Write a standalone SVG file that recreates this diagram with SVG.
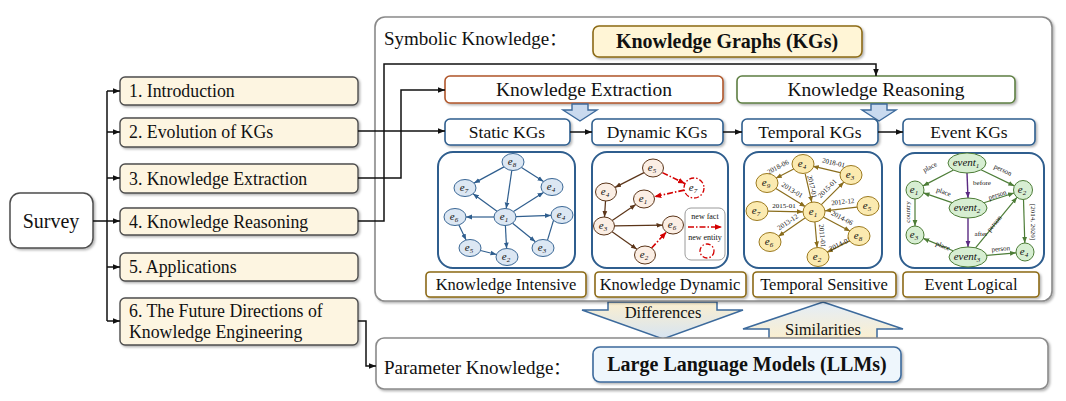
<svg xmlns="http://www.w3.org/2000/svg" width="1066" height="401" viewBox="0 0 1066 401">
<defs>
<style>
text{font-family:"Liberation Serif","Times New Roman",serif;fill:#111}
.sec rect{fill:#fdf5e1;stroke:#4e4e4e;stroke-width:1.4}
.sec text{font-size:17.8px}
.conn{fill:none;stroke:#111;stroke-width:1.5}
.big{fill:#fff;stroke:#8a8a8a;stroke-width:1.6}
.kg rect{fill:#fff;stroke:#2f5e8e;stroke-width:1.6}
.kg text{font-size:17.5px;text-anchor:middle}
.panel{fill:#fff;stroke:#2f5e8e;stroke-width:2}
.prop rect{fill:#fff;stroke:#8c6a16;stroke-width:1.6}
.prop text{font-size:16.5px;text-anchor:middle}
.nl{font-style:italic;font-size:11px;text-anchor:middle}
.el{font-size:7px;text-anchor:middle}
.fat{fill:#c9daef;stroke:#3c6a9c;stroke-width:1.4}
.s-e{stroke:#2f5e8e;stroke-width:1.2;fill:none}
.s-n{fill:#dce7f3;stroke:#3a6795;stroke-width:1}
.d-e{stroke:#5b3519;stroke-width:1.2;fill:none}
.d-r{stroke:#d40000;stroke-width:1.6;fill:none;stroke-dasharray:6 2 1.5 2}
.d-n{fill:#fbeee4;stroke:#5b3519;stroke-width:1}
.t-e{stroke:#8a6d1c;stroke-width:1.2;fill:none}
.t-n{fill:#fbeab0;stroke:#9c7a20;stroke-width:1}
.v-e{stroke:#4d7d37;stroke-width:1.2;fill:none}
.v-p{stroke:#5a2a82;stroke-width:1.4;fill:none}
.v-n{fill:#d7eed2;stroke:#4d7d37;stroke-width:1}
</style>
<filter id="sh" x="-10%" y="-10%" width="125%" height="140%">
<feDropShadow dx="1.5" dy="1.5" stdDeviation="1" flood-color="#000" flood-opacity="0.3"/>
</filter>
<marker id="ak" viewBox="0 0 10 10" refX="10" refY="5" markerWidth="7" markerHeight="7" markerUnits="userSpaceOnUse" orient="auto"><path d="M0,1 L10,5 L0,9 z" fill="#111"/></marker>
<marker id="ab" viewBox="0 0 10 10" refX="10" refY="5" markerWidth="6" markerHeight="6" markerUnits="userSpaceOnUse" orient="auto"><path d="M0,1 L10,5 L0,9 z" fill="#2f5e8e"/></marker>
<marker id="ad" viewBox="0 0 10 10" refX="10" refY="5" markerWidth="6" markerHeight="6" markerUnits="userSpaceOnUse" orient="auto"><path d="M0,1 L10,5 L0,9 z" fill="#5b3519"/></marker>
<marker id="ar" viewBox="0 0 10 10" refX="10" refY="5" markerWidth="7" markerHeight="7" markerUnits="userSpaceOnUse" orient="auto"><path d="M0,1 L10,5 L0,9 z" fill="#d40000"/></marker>
<marker id="at" viewBox="0 0 10 10" refX="10" refY="5" markerWidth="6" markerHeight="6" markerUnits="userSpaceOnUse" orient="auto"><path d="M0,1 L10,5 L0,9 z" fill="#8a6d1c"/></marker>
<marker id="ag" viewBox="0 0 10 10" refX="10" refY="5" markerWidth="6" markerHeight="6" markerUnits="userSpaceOnUse" orient="auto"><path d="M0,1 L10,5 L0,9 z" fill="#4d7d37"/></marker>
<marker id="ap" viewBox="0 0 10 10" refX="10" refY="5" markerWidth="6" markerHeight="6" markerUnits="userSpaceOnUse" orient="auto"><path d="M0,1 L10,5 L0,9 z" fill="#5a2a82"/></marker>
<linearGradient id="gDown" x1="0" y1="0" x2="0" y2="1"><stop offset="0" stop-color="#fbefcf"/><stop offset="1" stop-color="#d6e4f3"/></linearGradient>
<linearGradient id="gUp" x1="0" y1="0" x2="0" y2="1"><stop offset="0" stop-color="#e3edf8"/><stop offset="1" stop-color="#fbefcf"/></linearGradient>
</defs>
<rect width="1066" height="401" fill="#fff"/>

<!-- comparison arrows between the two knowledge panels -->
<g id="cmp-differences">
<polygon points="608,302 717,302 717,310 743,310 663,339 582,310 608,310" fill="url(#gDown)" stroke="#3c6a9c" stroke-width="1.5"/>
<text x="663" y="318" font-size="16.5" text-anchor="middle">Differences</text>
</g>
<g id="cmp-similarities">
<polygon points="823,302 903,329 877,329 877,339 769,339 769,329 743,329" fill="url(#gUp)" stroke="#3c6a9c" stroke-width="1.5"/>
<text x="823" y="335" font-size="16.5" text-anchor="middle">Similarities</text>
</g>

<!-- symbolic knowledge panel -->
<g id="symbolic-panel">
<rect class="big" x="375" y="17" width="677" height="284" rx="10" filter="url(#sh)"/>
<text x="384" y="45" font-size="19">Symbolic Knowledge<tspan font-family="'Noto Sans CJK SC',sans-serif" font-size="17">：</tspan></text>
</g>
<g id="kgs-title">
<rect x="593" y="26" width="269" height="31" rx="6" fill="#fff5d6" stroke="#8c6a16" stroke-width="1.6" filter="url(#sh)"/>
<text x="727" y="48" font-size="20" font-weight="bold" text-anchor="middle">Knowledge Graphs (KGs)</text>
</g>

<!-- parameter knowledge panel -->
<g id="parameter-panel">
<rect class="big" x="376" y="338" width="672" height="51" rx="8" filter="url(#sh)"/>
<text x="384" y="374" font-size="19">Parameter Knowledge<tspan font-family="'Noto Sans CJK SC',sans-serif" font-size="17">：</tspan></text>
</g>
<g id="llms">
<rect x="593" y="347" width="308" height="35" rx="7" fill="#eef6fc" stroke="#3c6a9c" stroke-width="1.6" filter="url(#sh)"/>
<text x="747" y="371" font-size="20" font-weight="bold" text-anchor="middle">Large Language Models (LLMs)</text>
</g>

<!-- survey outline -->
<g id="survey">
<rect x="10" y="193" width="83" height="55" rx="10" fill="#fff" stroke="#4e4e4e" stroke-width="1.5" filter="url(#sh)"/>
<text x="51" y="228" font-size="20" text-anchor="middle">Survey</text>
</g>
<g id="sec1" class="sec"><rect x="120" y="77" width="238" height="28" rx="5" filter="url(#sh)"/><text x="129" y="97">1. Introduction</text></g>
<g id="sec2" class="sec"><rect x="120" y="118" width="238" height="29" rx="5" filter="url(#sh)"/><text x="129" y="138">2. Evolution of KGs</text></g>
<g id="sec3" class="sec"><rect x="120" y="164" width="238" height="29" rx="5" filter="url(#sh)"/><text x="129" y="185">3. Knowledge Extraction</text></g>
<g id="sec4" class="sec"><rect x="120" y="208" width="238" height="27" rx="5" filter="url(#sh)"/><text x="129" y="228">4. Knowledge Reasoning</text></g>
<g id="sec5" class="sec"><rect x="120" y="253" width="238" height="28" rx="5" filter="url(#sh)"/><text x="129" y="273">5. Applications</text></g>
<g id="sec6" class="sec"><rect x="120" y="298" width="238" height="47" rx="5" filter="url(#sh)"/><text x="129" y="317">6. The Future Directions of</text><text x="129" y="338">Knowledge Engineering</text></g>

<!-- task boxes -->
<g id="extraction"><rect x="445" y="76" width="278" height="27" rx="5" fill="#fff" stroke="#b0562a" stroke-width="1.6" filter="url(#sh)"/><text x="584" y="96" font-size="19.5" text-anchor="middle">Knowledge Extraction</text></g>
<g id="reasoning"><rect x="737" y="76" width="278" height="27" rx="5" fill="#fff" stroke="#5e7f43" stroke-width="1.6" filter="url(#sh)"/><text x="876" y="96" font-size="19.5" text-anchor="middle">Knowledge Reasoning</text></g>
<polygon class="fat" points="572,104 588,104 588,110 597,110 580,121 563,110 572,110"/>
<polygon class="fat" points="871,104 887,104 887,110 896,110 879,121 862,110 871,110"/>

<!-- KG types -->
<g id="static-kgs" class="kg"><rect x="445" y="119" width="125" height="26" rx="5" filter="url(#sh)"/><text x="507" y="138">Static KGs</text></g>
<g id="dynamic-kgs" class="kg"><rect x="592" y="119" width="131" height="26" rx="5" filter="url(#sh)"/><text x="657" y="138">Dynamic KGs</text></g>
<g id="temporal-kgs" class="kg"><rect x="742" y="119" width="136" height="26" rx="5" filter="url(#sh)"/><text x="810" y="138">Temporal KGs</text></g>
<g id="event-kgs" class="kg"><rect x="903" y="119" width="132" height="26" rx="5" filter="url(#sh)"/><text x="969" y="138">Event KGs</text></g>

<!-- properties -->
<g id="p-intensive" class="prop"><rect x="426" y="272" width="160" height="25" rx="4" filter="url(#sh)"/><text x="506" y="290">Knowledge Intensive</text></g>
<g id="p-dynamic" class="prop"><rect x="595" y="272" width="151" height="25" rx="4" filter="url(#sh)"/><text x="670" y="290">Knowledge Dynamic</text></g>
<g id="p-temporal" class="prop"><rect x="753" y="272" width="143" height="25" rx="4" filter="url(#sh)"/><text x="824" y="290">Temporal Sensitive</text></g>
<g id="p-event" class="prop"><rect x="903" y="272" width="136" height="25" rx="4" filter="url(#sh)"/><text x="971" y="290">Event Logical</text></g>

<!-- outline connectors -->
<g id="connectors" class="conn">
<path d="M93,221 H107 M107,91 V321"/>
<path d="M107,91 H120" marker-end="url(#ak)"/>
<path d="M107,132 H120" marker-end="url(#ak)"/>
<path d="M107,178 H120" marker-end="url(#ak)"/>
<path d="M107,221 H120" marker-end="url(#ak)"/>
<path d="M107,267 H120" marker-end="url(#ak)"/>
<path d="M107,321 H120" marker-end="url(#ak)"/>
<path d="M358,131 H445" marker-end="url(#ak)"/>
<path d="M358,178 H401 V90 H445" marker-end="url(#ak)"/>
<path d="M358,221 H384 V64 H876 V76" marker-end="url(#ak)"/>
<path d="M358,321 H366 V366 H376" marker-end="url(#ak)"/>
<path d="M570,132 H592" marker-end="url(#ak)"/>
<path d="M723,132 H742" marker-end="url(#ak)"/>
<path d="M878,132 H903" marker-end="url(#ak)"/>
</g>

<!-- static KG sketch -->
<g id="static-graph">
<rect class="panel" x="438" y="152" width="137" height="116" rx="15"/>
<g class="s-e">
<path d="M504,166.9 L474,183.1" marker-end="url(#ab)"/>
<path d="M521.5,167.4 L543.5,181.6" marker-end="url(#ab)"/>
<path d="M511.8,170.4 L506.2,208.6" marker-end="url(#ab)"/>
<path d="M497,211.2 L473,193.8" marker-end="url(#ab)"/>
<path d="M513.5,211.6 L543.5,192.4" marker-end="url(#ab)"/>
<path d="M494,217 L466,217" marker-end="url(#ab)"/>
<path d="M516,216.6 L551,215.4" marker-end="url(#ab)"/>
<path d="M505.4,225.5 L506.6,248.5" marker-end="url(#ab)"/>
<path d="M512.6,223.2 L535.4,241.8" marker-end="url(#ab)"/>
<path d="M458.9,225 L466.1,240" marker-end="url(#ab)"/>
<path d="M480.5,250.5 L496.5,254.5" marker-end="url(#ab)"/>
<path d="M547.5,240.2 L557.5,207.2" marker-end="url(#ab)"/>
</g>
<g class="s-n">
<ellipse cx="513" cy="162" rx="11" ry="8.5"/><ellipse cx="465" cy="188" rx="11" ry="8.5"/>
<ellipse cx="552" cy="187" rx="11" ry="8.5"/><ellipse cx="505" cy="217" rx="11" ry="8.5"/>
<ellipse cx="455" cy="217" rx="11" ry="8.5"/><ellipse cx="562" cy="215" rx="11" ry="8.5"/>
<ellipse cx="470" cy="248" rx="11" ry="8.5"/><ellipse cx="507" cy="257" rx="11" ry="8.5"/>
<ellipse cx="543" cy="248" rx="11" ry="8.5"/>
</g>
<text class="nl" x="512" y="165">e<tspan dy="2" font-size="7">8</tspan></text>
<text class="nl" x="464" y="191">e<tspan dy="2" font-size="7">7</tspan></text>
<text class="nl" x="551" y="190">e<tspan dy="2" font-size="7">4</tspan></text>
<text class="nl" x="504" y="220">e<tspan dy="2" font-size="7">1</tspan></text>
<text class="nl" x="454" y="220">e<tspan dy="2" font-size="7">6</tspan></text>
<text class="nl" x="561" y="218">e<tspan dy="2" font-size="7">4</tspan></text>
<text class="nl" x="469" y="251">e<tspan dy="2" font-size="7">5</tspan></text>
<text class="nl" x="506" y="260">e<tspan dy="2" font-size="7">2</tspan></text>
<text class="nl" x="542" y="251">e<tspan dy="2" font-size="7">3</tspan></text>
</g>

<!-- dynamic KG sketch -->
<g id="dynamic-graph">
<rect class="panel" x="592" y="152" width="136" height="116" rx="15"/>
<g class="d-e">
<path d="M644,172.6 L615,187.4" marker-end="url(#ad)"/>
<path d="M605.5,201 L604.5,217" marker-end="url(#ad)"/>
<path d="M612.2,220.4 L635.8,204.6" marker-end="url(#ad)"/>
<path d="M614.5,225.8 L662.5,225.2" marker-end="url(#ad)"/>
<path d="M612.1,231.8 L636.9,249.2" marker-end="url(#ad)"/>
</g>
<g class="d-r">
<path d="M662.4,172.6 L685,183.6" marker-end="url(#ar)"/>
<path d="M684.2,190.1 L654.3,196.7" marker-end="url(#ar)"/>
<path d="M651.6,248 L666.4,232" marker-end="url(#ar)"/>
</g>
<g class="d-n">
<ellipse cx="653" cy="168" rx="10.5" ry="9"/><ellipse cx="606" cy="192" rx="10.5" ry="9"/>
<ellipse cx="644" cy="199" rx="10.5" ry="9"/><ellipse cx="604" cy="226" rx="10.5" ry="9"/>
<ellipse cx="673" cy="225" rx="10.5" ry="9"/><ellipse cx="645" cy="255" rx="10.5" ry="9"/>
</g>
<circle cx="694" cy="188" r="10" fill="#fff" stroke="#d40000" stroke-width="1.3" stroke-dasharray="5 2 1.5 2"/>
<text class="nl" x="652" y="171">e<tspan dy="2" font-size="7">5</tspan></text>
<text class="nl" x="605" y="195">e<tspan dy="2" font-size="7">4</tspan></text>
<text class="nl" x="643" y="202">e<tspan dy="2" font-size="7">1</tspan></text>
<text class="nl" x="603" y="229">e<tspan dy="2" font-size="7">3</tspan></text>
<text class="nl" x="672" y="228">e<tspan dy="2" font-size="7">6</tspan></text>
<text class="nl" x="644" y="258">e<tspan dy="2" font-size="7">2</tspan></text>
<text class="nl" x="693" y="191">e<tspan dy="2" font-size="7">7</tspan></text>
<g id="dynamic-legend">
<rect x="685" y="208" width="40" height="52" rx="6" fill="#fff" stroke="#9a9a9a" stroke-width="1"/>
<text x="705" y="219" font-size="8" text-anchor="middle">new fact</text>
<path class="d-r" d="M688,227 L722,227" marker-end="url(#ar)"/>
<text x="705" y="240" font-size="8" text-anchor="middle">new entity</text>
<circle cx="707" cy="251" r="7" fill="#fff" stroke="#d40000" stroke-width="1.3" stroke-dasharray="5 2 1.5 2"/>
</g>
</g>

<!-- temporal KG sketch -->
<g id="temporal-graph">
<rect class="panel" x="744" y="152" width="138" height="116" rx="15"/>
<g class="t-e">
<path d="M794.2,168.7 L775.8,178.3" marker-end="url(#at)"/>
<path d="M841.2,172.8 L812.8,166.2" marker-end="url(#at)"/>
<path d="M805.2,173.8 L811.8,202.3" marker-end="url(#at)"/>
<path d="M775.5,188.3 L805.5,206.8" marker-end="url(#at)"/>
<path d="M821.1,204.9 L843.9,182.1" marker-end="url(#at)"/>
<path d="M767.5,211.2 L803,211.8" marker-end="url(#at)"/>
<path d="M857,207.2 L825,210.8" marker-end="url(#at)"/>
<path d="M805.7,217.6 L778.3,236.4" marker-end="url(#at)"/>
<path d="M822.8,216.7 L850.2,231.3" marker-end="url(#at)"/>
<path d="M814.9,222 L817.1,247.5" marker-end="url(#at)"/>
<path d="M850.1,240.6 L826.9,252.4" marker-end="url(#at)"/>
</g>
<g class="el">
<text transform="translate(779,169) rotate(-28)">2018-06</text>
<text transform="translate(833,165) rotate(13)">2018-01</text>
<text transform="translate(810,187) rotate(77)">2017-01</text>
<text transform="translate(791,192) rotate(32)">2013-01</text>
<text transform="translate(829,190) rotate(-45)">2015-01</text>
<text x="784" y="208">2015-01</text>
<text transform="translate(843,204) rotate(-6)">2012-12</text>
<text transform="translate(789,224) rotate(-34)">2013-12</text>
<text transform="translate(841,220) rotate(28)">2014-06</text>
<text transform="translate(820,236) rotate(85)">2011-01</text>
<text transform="translate(841,246) rotate(-27)">2014-01</text>
</g>
<g class="t-n">
<ellipse cx="803" cy="164" rx="11" ry="9.5"/><ellipse cx="851" cy="175" rx="11" ry="9.5"/>
<ellipse cx="767" cy="183" rx="11" ry="9.5"/><ellipse cx="757" cy="211" rx="11" ry="9.5"/>
<ellipse cx="814" cy="212" rx="11" ry="10"/><ellipse cx="868" cy="206" rx="11" ry="9.5"/>
<ellipse cx="859" cy="236" rx="11" ry="9.5"/><ellipse cx="770" cy="242" rx="11" ry="9.5"/>
<ellipse cx="818" cy="257" rx="11" ry="9.5"/>
</g>
<text class="nl" x="802" y="167">e<tspan dy="2" font-size="7">4</tspan></text>
<text class="nl" x="850" y="178">e<tspan dy="2" font-size="7">3</tspan></text>
<text class="nl" x="766" y="186">e<tspan dy="2" font-size="7">9</tspan></text>
<text class="nl" x="756" y="214">e<tspan dy="2" font-size="7">7</tspan></text>
<text class="nl" x="813" y="215">e<tspan dy="2" font-size="7">1</tspan></text>
<text class="nl" x="867" y="209">e<tspan dy="2" font-size="7">5</tspan></text>
<text class="nl" x="858" y="239">e<tspan dy="2" font-size="7">8</tspan></text>
<text class="nl" x="769" y="245">e<tspan dy="2" font-size="7">6</tspan></text>
<text class="nl" x="817" y="260">e<tspan dy="2" font-size="7">2</tspan></text>
</g>

<!-- event KG sketch -->
<g id="event-graph">
<rect class="panel" x="900" y="153" width="144" height="115" rx="15"/>
<g class="v-e">
<path d="M953.5,170 L923,185.9" marker-end="url(#ag)"/>
<path d="M981,169.8 L1014.4,185.9" marker-end="url(#ag)"/>
<path d="M952,202.6 L923.5,192.9" marker-end="url(#ag)"/>
<path d="M984,202.7 L1014,193" marker-end="url(#ag)"/>
<path d="M915,199 L915,226" marker-end="url(#ag)"/>
<path d="M1023.5,199.5 L1024.8,243" marker-end="url(#ag)"/>
<path d="M953,250.8 L923.3,238.4" marker-end="url(#ag)"/>
<path d="M975.5,247.8 L1017,197.3" marker-end="url(#ag)"/>
<path d="M987,255.3 L1016,252.8" marker-end="url(#ag)"/>
</g>
<g class="v-p">
<path d="M967,173 L968,198" marker-end="url(#ap)"/>
<path d="M968,218 L968,247" marker-end="url(#ap)"/>
</g>
<g class="el">
<text transform="translate(931,169) rotate(-28)">place</text>
<text transform="translate(1002,172) rotate(26)">person</text>
<text x="982" y="185">before</text>
<text transform="translate(943,194) rotate(19)">place</text>
<text transform="translate(998,197) rotate(-18)">person</text>
<text transform="translate(910,212) rotate(-90)">country</text>
<text x="981" y="236">after</text>
<text transform="translate(996,225) rotate(-50)">person</text>
<text transform="translate(1031,222) rotate(90)">[2014, 2020]</text>
<text transform="translate(942,248) rotate(22)">place</text>
<text transform="translate(1001,251) rotate(-5)">person</text>
</g>
<g class="v-n">
<ellipse cx="967" cy="163" rx="19" ry="10"/><ellipse cx="968" cy="208" rx="19" ry="10"/>
<ellipse cx="968" cy="257" rx="19" ry="10"/>
<ellipse cx="915" cy="190" rx="9" ry="9"/><ellipse cx="1023" cy="190" rx="9.5" ry="9.5"/>
<ellipse cx="915" cy="235" rx="9" ry="9"/><ellipse cx="1025" cy="252" rx="9" ry="9"/>
</g>
<text class="nl" x="966" y="166" font-size="10">event<tspan dy="2" font-size="7">1</tspan></text>
<text class="nl" x="967" y="211" font-size="10">event<tspan dy="2" font-size="7">2</tspan></text>
<text class="nl" x="967" y="260" font-size="10">event<tspan dy="2" font-size="7">3</tspan></text>
<text class="nl" x="914" y="193">e<tspan dy="2" font-size="7">1</tspan></text>
<text class="nl" x="1022" y="193">e<tspan dy="2" font-size="7">2</tspan></text>
<text class="nl" x="914" y="238">e<tspan dy="2" font-size="7">3</tspan></text>
<text class="nl" x="1024" y="255">e<tspan dy="2" font-size="7">4</tspan></text>
</g>
</svg>
